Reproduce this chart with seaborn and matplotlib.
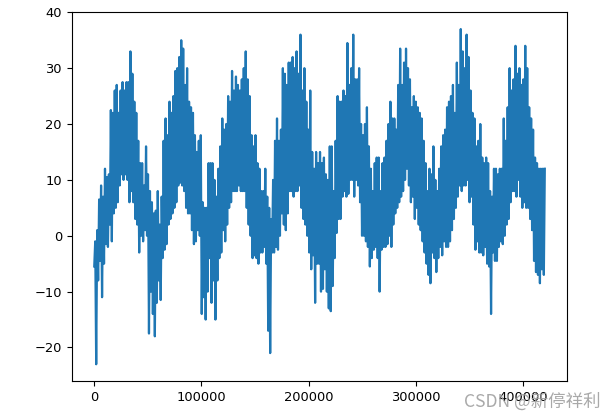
import numpy as np
import matplotlib
matplotlib.use("Agg")
import matplotlib.pyplot as plt
import seaborn as sns

# temperature envelope, left to right, roughly every 2 px
# hi = upper spikes, lo = lower spikes
hi_2009 = [-1, 1, 6.5, 9, 7, 12, 10.5, 11, 22.5, 22, 26, 27, 22, 26, 27.5, 26, 27.5, 27.5, 33, 29,
           24, 22, 17, 13, 13, 9, 16, 11, 8, 6, 4, 4.5, 8, 2, 7, 17, 21, 18, 24, 22,
           25, 29.5, 30, 32, 35, 33.5, 27, 30, 24, 23, 22, 18, 15, 17, 18, 6, 5, 5, 13, 13]
lo_2009 = [-5.5, -23, -8, -4.5, -11, -5, -1.5, -2, 2, -1, 4, 5, 6, 9, 11, 10, 11, 10, 6, 8,
           6, 3, 2, -3, 0, -1, 1, 0, -17.5, -10, -14, -18, -12, -8, -11.5, -4, -2.5, -1.5, 2, 3,
           4, 5, 6, 9, 9.5, 9, 8, 5, 4, 4, 1, -1.5, -1, 1, 0, -14, -11, -15, -10, -4]

hi_2011 = [13, 10, 7, 12, 16, 21, 19, 20, 25, 24, 29.5, 26, 28.5, 27, 26, 28, 30, 33, 28, 25,
           18, 16, 18, 13, 12, 8, 8, 12, 7, 5, 3, 10, 17, 21, 17, 19, 30, 29, 27, 31,
           31, 32, 30, 33, 29, 36, 26, 30, 24, 19, 26, 15, 12, 15, 13, 15, 13, 14, 11, 10, 16]
lo_2011 = [-12, -8, -15, -8, -4, -3, 1, -1, 2, 5, 6, 8, 8, 8, 9, 8, 8, 8, 5, 2,
           0, -4, -3.5, -4, -5, -3, -3, -2, -5, -17, -21, -3, -3, -2, -2.5, 0, 4, 2, 1, 4,
           8, 8, 7, 8, 8, 9, 5, 3, 2, 0, -3, -6, -3.5, -12, -5, -5, -10, -9.5, -6, -10, -13]

hi_2013 = [16, 8, 17, 25, 24, 24, 26, 25, 34.5, 27, 30, 36, 28, 28, 30, 20, 18, 20, 23, 16,
           12, 8, 13, 14, 14, 8, 13, 14, 17, 20, 24, 21, 21, 19, 27, 33.5, 27, 31, 33.5, 30,
           28, 23, 25, 24, 23, 22, 21, 17, 13, 8, 12, 11, 16, 10, 8, 12, 16, 18, 19, 23, 24]
lo_2013 = [-13.5, -9, -4, 0.5, 3, 3, 7, 8, 7, 7.5, 10, 10, 7, 10, 9, 6, 0, 0, -1, -2,
           -5.5, -4, -2.5, -2, -4, -10, -2.5, -2, -2, -1.5, 0, -2, 2, 4, 5, 6, 7, 8, 10, 12,
           9, 6, 7, 3, 5, 2, 1, -1, -3, -5, -7, -8.5, -3, -4, -6.5, -4, -2, -3.5, -1, -2, -2]

hi_2015 = [25, 27, 22, 31, 27, 37, 33, 30, 36, 32, 26, 22, 21, 16, 17, 20, 14, 13, 14, 13,
           8, 7, 12, 12, 11, 12, 12, 21, 17, 23, 30, 26, 28, 34, 29, 30, 27, 28, 34, 30,
           23, 21, 19, 14, 13, 12, 12, 12, 12]
lo_2015 = [-1, 1, 3, 5, 7, 9, 8, 9, 9, 10, 6, 7, 2, -2.5, -1, -3, -3, -3.5, -2, -5,
           -5.5, -14, -3, -4.5, -4.5, -2, -1, -1.5, 0, 2, 3, 6, 8, 8, 7, 10, 7, 5, 6, 5,
           5, 3, 1, -4.5, -6.5, -7, -8.5, -6, -7]

n_samples = 420551

hi = np.array(hi_2009 + hi_2011 + hi_2013 + hi_2015)
lo = np.array(lo_2009 + lo_2011 + lo_2013 + lo_2015)
temp = np.empty(hi.size * 2)
temp[0::2] = lo
temp[1::2] = hi
idx = np.linspace(0, n_samples - 1, temp.size)

plt.rcParams['font.size'] = 9.4
fig = plt.figure(figsize=(6.14, 4.17), dpi=100)
ax = fig.add_axes([0.1168, 0.0863, 0.8072, 0.8842])

sns.lineplot(x=idx, y=temp, color='#1f77b4', linewidth=1.6, ax=ax)
ax.set_xlabel('')
ax.set_ylabel('')

# CSDN watermark from the screenshot, sits over the last tick label
fig.text(0.756, 0.024, 'CSDN @新停祥利', fontsize=12.6, color='#a0a0a0', alpha=0.9,
         family=['Noto Sans CJK SC', 'DejaVu Sans'], va='baseline')

fig.savefig('out.png', dpi=100)
